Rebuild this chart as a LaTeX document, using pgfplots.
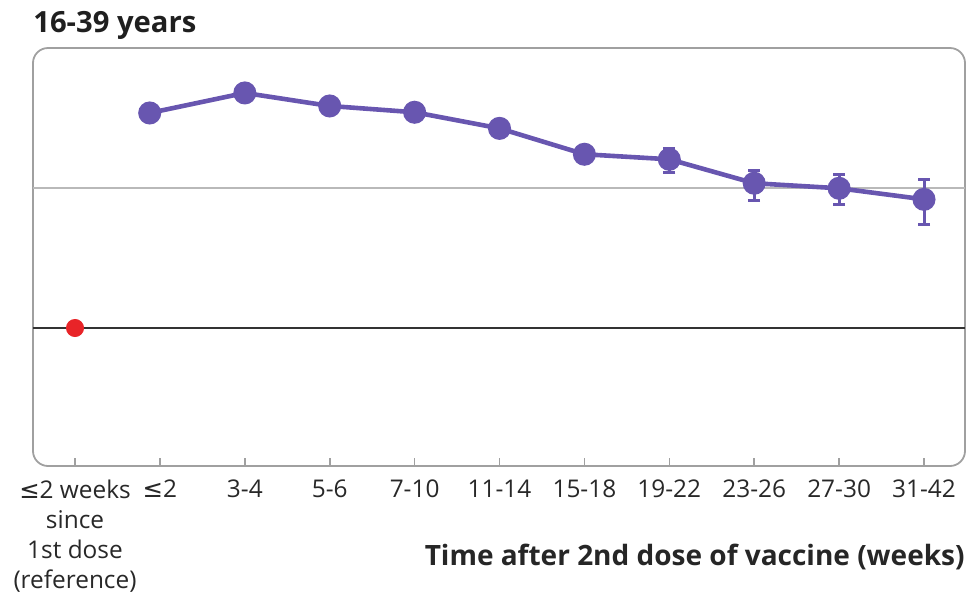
\documentclass[border=0pt]{standalone}
\usepackage{pgfplots}
\pgfplotsset{compat=1.18}
\usepackage{fontspec}
\setmainfont{Open Sans}
\newfontfamily\symfont{DejaVu Sans}
\definecolor{vpurple}{RGB}{104,86,176}
\definecolor{refred}{RGB}{232,36,40}
\definecolor{framegray}{RGB}{160,160,160}
\definecolor{refgray}{RGB}{185,185,185}
\definecolor{labelgray}{RGB}{40,40,40}
\begin{document}
\begin{tikzpicture}
\path[use as bounding box] (-16.5pt,-65pt) rectangle (473.5pt,233pt);
\begin{axis}[
  at={(0,0)}, anchor=south west,
  scale only axis, width=466pt, height=209pt,
  xmin=-0.495, xmax=10.483, ymin=-0.9857, ymax=2.0,
  axis line style={draw=none},
  xtick={0,...,10},
  xticklabels={{{\symfont≤}2 weeks\\since\\1st dose\\(reference)},{{\symfont≤}2},3-4,5-6,7-10,11-14,15-18,19-22,23-26,27-30,31-42},
  ytick=\empty,
  tick align=inside, xtick pos=bottom,
  major tick length=4pt,
  xtick style={color=framegray, line width=0.8pt},
  xticklabel style={font=\fontsize{12.2}{15}\selectfont, text=labelgray, align=center, anchor=north, yshift=-3.5pt},
  clip=false,
]
% frame with rounded corners
\draw[framegray, line width=0.9pt, rounded corners=7.5pt] (rel axis cs:0,0) rectangle (rel axis cs:1,1);
% reference lines
\addplot[refgray, line width=1pt, forget plot] coordinates {(-0.495,1) (10.483,1)};
\addplot[black!80, line width=1pt, forget plot] coordinates {(-0.495,0) (10.483,0)};
% reference category
\addplot[only marks, mark=*, mark size=4.3pt, refred] coordinates {(0,0)};
% estimates after the second dose
\addplot[vpurple, line width=2.3pt, mark=*, mark size=4.6pt,
  mark options={fill=vpurple, draw=vpurple},
  error bars/.cd, y dir=both, y explicit,
  error bar style={line width=1.5pt, vpurple},
  error mark options={rotate=90, mark size=3pt, line width=1.5pt, vpurple}]
coordinates {
  (0.88,1.536)
  (2,1.679)
  (3,1.586)
  (4,1.541)
  (5,1.426)
  (6,1.241) += (0,0.052) -= (0,0.062)
  (7,1.205) += (0,0.074) -= (0,0.093)
  (8,1.034) += (0,0.090) -= (0,0.120)
  (9,0.998) += (0,0.102) -= (0,0.119)
  (10,0.919) += (0,0.143) -= (0,0.183)
};
\node[anchor=base west, font=\bfseries\fontsize{14.6}{16}\selectfont, text=black!88, inner sep=0pt]
  at (rel axis cs:0,1) [yshift=8pt] {16-39 years};
\node[anchor=base east, font=\bfseries\fontsize{14}{16}\selectfont, text=black!85, inner sep=0pt]
  at (rel axis cs:1,0) [yshift=-49.5pt] {Time after 2nd dose of vaccine (weeks)};
\end{axis}
\end{tikzpicture}
\end{document}
